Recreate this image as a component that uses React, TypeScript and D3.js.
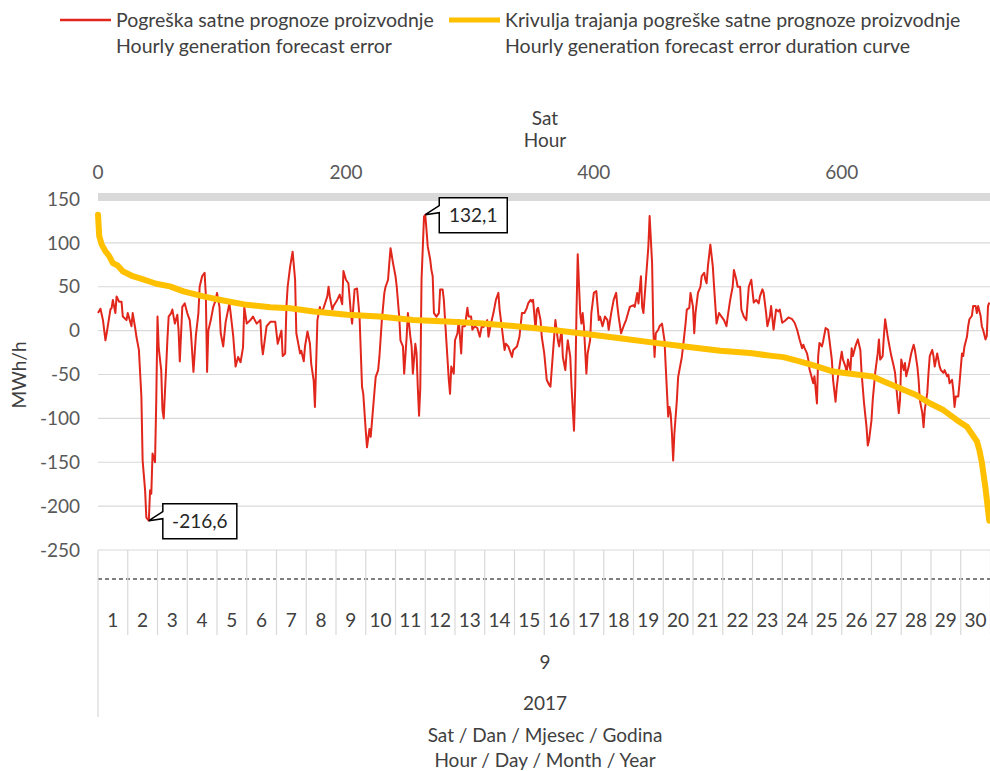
import React from 'react';
import * as d3 from 'd3';

// hourly forecast error (hour of month, MWh/h)
const errorHours = [
  0, 2, 4, 6, 7, 10, 11, 12, 14, 15, 17, 19, 20, 23, 24, 27, 28, 30, 31, 33,
  35, 36, 38, 39, 41, 42, 43, 44, 46, 47, 48, 49, 51, 52, 53, 55, 56, 57, 59, 60,
  62, 64, 65, 66, 68, 70, 72, 74, 75, 77, 79, 81, 82, 84, 86, 87, 88, 89, 91, 93,
  95, 96, 98, 99, 101, 103, 106, 107, 109, 111, 113, 115, 117, 118, 120, 123, 125, 128, 131, 132,
  133, 136, 139, 141, 143, 145, 148, 149, 151, 152, 153, 155, 157, 159, 160, 162, 163, 164, 166, 167,
  169, 171, 172, 174, 175, 177, 179, 180, 182, 185, 186, 187, 189, 190, 193, 195, 197, 198, 200, 202,
  204, 205, 207, 209, 211, 213, 214, 216, 217, 219, 220, 222, 224, 226, 227, 229, 231, 232, 234, 235,
  236, 238, 240, 241, 243, 244, 246, 247, 249, 250, 252, 253, 254, 256, 257, 258, 259, 260, 261, 263,
  264, 265, 266, 268, 269, 270, 271, 273, 275, 276, 278, 279, 280, 281, 283, 284, 285, 287, 288, 290,
  291, 293, 294, 296, 298, 299, 301, 302, 304, 306, 308, 310, 311, 314, 315, 317, 319, 321, 323, 324,
  326, 328, 329, 331, 334, 335, 338, 340, 342, 344, 346, 347, 349, 350, 351, 353, 354, 355, 357, 358,
  360, 362, 364, 365, 367, 369, 371, 372, 374, 375, 377, 378, 379, 381, 382, 384, 385, 386, 387, 389,
  390, 391, 392, 394, 395, 397, 398, 400, 402, 404, 405, 407, 409, 411, 412, 414, 416, 418, 419, 420,
  422, 424, 426, 429, 432, 433, 435, 436, 438, 439, 440, 442, 444, 445, 447, 448, 449, 450, 452, 453,
  455, 457, 458, 460, 461, 462, 463, 464, 465, 467, 468, 471, 472, 474, 475, 477, 478, 480, 481, 482,
  484, 486, 487, 489, 490, 491, 492, 494, 496, 497, 499, 501, 503, 505, 507, 508, 510, 512, 513, 515,
  516, 518, 519, 521, 523, 525, 527, 529, 531, 533, 534, 536, 537, 539, 540, 542, 543, 545, 547, 549,
  550, 552, 554, 557, 560, 562, 564, 566, 568, 569, 570, 572, 573, 574, 577, 578, 580, 581, 582, 584,
  585, 587, 589, 590, 592, 593, 595, 596, 597, 599, 600, 601, 603, 604, 605, 607, 608, 609, 611, 613,
  615, 616, 618, 620, 621, 622, 624, 625, 627, 629, 630, 631, 633, 634, 635, 637, 638, 640, 642, 643,
  644, 646, 647, 648, 650, 651, 652, 654, 656, 658, 659, 661, 662, 663, 665, 666, 667, 669, 670, 671,
  673, 674, 675, 677, 679, 680, 682, 683, 685, 686, 687, 689, 690, 691, 692, 694, 695, 697, 698, 699,
  701, 702, 703, 705, 706, 708, 709, 710, 712, 713, 714, 716, 717, 718, 719,
];
const errorValues = [
  20, 25, 12, -11, -3, 24, 26, 35, 20, 39, 33, 33, 16, 12, 20, 5, 20, 3, -7, -22,
  -75, -148, -182, -213, -216.6, -182, -186, -140, -150, -80, 16, -20, -45, -90, -100, -41, -10, 16, 20, 24,
  8, 18, 0, -35, 27, 31, 20, 12, -3, -47, -5, 20, 50, 62, 66, 40, -47, 0, 12, 27,
  35, 43, 27, -3, -18, 10, 31, 20, -5, -41, -30, -36, -19, 27, 8, 12, 16, 8, 12, -15,
  -27, 5, 10, 10, 10, -15, 0, -29, -26, 27, 50, 73, 90, 58, -3, -18, -26, -23, -35, -18,
  -1, -15, -38, -57, -87, 12, 27, 20, 26, 39, 50, 39, 24, 28, 35, 41, 30, 68, 58, 54,
  20, 8, 47, 48, 16, -64, -72, -114, -133, -112, -121, -87, -53, -45, -30, 12, 43, 50, 58, 77,
  94, 77, 62, 50, 16, -11, -18, -49, -7, 20, -7, -18, -49, -15, -26, -65, -97, -65, 58, 130,
  132.1, 115, 96, 81, 69, 62, 20, 16, 20, 47, 47, 35, 12, -11, -56, -72, -41, -49, -11, -3,
  12, -26, 5, 5, 26, 16, 16, 1, 5, 3, -7, 8, 4, 12, -7, 8, 20, 35, 43, 24,
  1, -22, -15, -18, -30, -22, -18, -7, 20, 20, 26, 31, 35, 33, 35, 1, 24, 26, 12, -7,
  -26, -56, -62, -64, -26, 12, -11, -18, 1, -30, -45, -26, -11, -30, -64, -114, -64, 20, 87, 20,
  8, 20, 5, -49, -26, -11, 20, 43, 45, 12, 16, 5, 16, 12, 1, 20, 35, 43, 28, 16,
  -3, 5, 12, 27, 29, 27, 43, 31, 62, 27, 20, 58, 96, 130.5, 77, 1, -30, -3, 1, 5,
  8, -11, -41, -98, -87, -95, -117, -148, -117, -79, -53, -30, -18, 8, 24, 26, 43, 27, -3, 20,
  43, 50, 62, 66, 58, 54, 73, 98, 73, 50, 8, 20, 16, 12, 5, 16, 35, 50, 69, 58,
  50, 50, 24, 16, 12, 50, 58, 32, 35, 31, 39, 47, 43, 20, 5, 16, 28, 1, 24, 22,
  24, 9, 11, 15, 13, 9, 1, -10, -20, -16, -20, -26, -33, -44, -60, -52, -83, -29, -14, -18,
  -12, 3, 1, -10, -33, -56, -81, -64, -52, -33, -24, -33, -41, -48, -33, -45, -20, -29, -18, -10,
  -22, -48, -83, -110, -131, -125, -102, -79, -48, -26, -10, -33, -29, -6, 13, -6, -14, -29, -41, -48,
  -64, -94, -79, -33, -45, -37, -52, -41, -26, -16, -22, -41, -56, -79, -94, -110, -90, -71, -48, -29,
  -22, -29, -41, -26, -41, -45, -48, -45, -52, -50, -60, -56, -68, -87, -75, -75, -60, -26, -29, -18,
  -7, 5, 13, 17, 28, 28, 20, 28, 17, 5, 1, -10, -6, 28, 32,
];

// duration curve (errors sorted from largest to smallest)
const durationRank = [
  0, 1, 3, 6, 9, 12, 16, 20, 28, 37, 47, 58, 69, 85, 101, 120, 139, 155, 174, 201,
  227, 254, 281, 308, 335, 367, 394, 421, 448, 475, 502, 526, 542, 553, 566, 580, 593, 607, 625, 634,
  647, 660, 671, 682, 693, 701, 709, 711, 713, 716, 719,
];
const durationValues = [
  132.1, 107.6, 98, 90.5, 85, 77, 74, 67.6, 62, 58, 53.4, 50.4, 44.7, 39, 34.4, 29.4, 26.7, 25.5, 21.8, 18,
  16, 12.2, 10.3, 8.4, 5.3, 0.8, -3.8, -8.8, -13.7, -18.3, -22.9, -25.6, -28.5, -30.2, -35, -40.8, -46.6, -49.2, -52.3, -58,
  -65.6, -73.3, -82.8, -90.5, -102, -109.5, -126, -136, -150, -180, -216.6,
];

const yTicks = [150, 100, 50, 0, -50, -100, -150, -200, -250];
const topTicks = [0, 200, 400, 600];
const dayLabels = d3.range(1, 31).map(String);
const monthLabel = '9';
const yearLabel = '2017';

const legendItems = [
  { color: '#E1261C', width: 2.5, x: 60, lines: ['Pogreška satne prognoze proizvodnje', 'Hourly generation forecast error'] },
  { color: '#FFC000', width: 5, x: 449, lines: ['Krivulja trajanja pogreške satne prognoze proizvodnje', 'Hourly generation forecast error duration curve'] },
];

const FONT = "Lato, 'Open Sans', sans-serif";

const Callout = ({ px, py, w, label }) => {
  const left = px + 14;
  const top = py - 17;
  const h = 35;
  const d = `M${left},${top}H${left + w}V${top + h}H${left}V${top + 15}L${px},${py}L${left},${top + 8}Z`;
  return (
    <g>
      <path d={d} fill="#fff" stroke="#000" strokeWidth={1.5} />
      <text x={left + w / 2} y={top + h / 2} dy="0.35em" textAnchor="middle" fontSize={19} fill="#262626">{label}</text>
    </g>
  );
};

export default function App() {
  const W = 990, H = 771;
  const x = d3.scaleLinear().domain([0, 720]).range([98, 990.5]);
  const y = d3.scaleLinear().domain([-250, 150]).range([550, 199]);
  const dayW = (x(720) - x(0)) / 30;

  const errLine = d3.line<number>().x((_, i) => x(errorHours[i])).y((v) => y(v));
  const durLine = d3.line<number>().x((_, i) => x(durationRank[i])).y((v) => y(v));

  const maxI = errorValues.indexOf(d3.max(errorValues));
  const minI = errorValues.indexOf(d3.min(errorValues));
  const fmt = (v) => String(v).replace('.', ',');

  return (
    <svg width={W} height={H} style={{ position: 'absolute', left: 0, top: 0, display: 'block' }} fontFamily={FONT}>
      <rect width={W} height={H} fill="#fff" />

      {/* legend */}
      {legendItems.map((it, k) => (
        <g key={k}>
          <line x1={it.x} x2={it.x + 51} y1={20} y2={20} stroke={it.color} strokeWidth={it.width} />
          {it.lines.map((t, j) => (
            <text key={j} x={it.x + 56} y={20 + j * 26} dy="0.35em" fontSize={19.5} fill="#404040">{t}</text>
          ))}
        </g>
      ))}

      {/* top axis */}
      <text x={545} y={118} dy="0.35em" textAnchor="middle" fontSize={19} fill="#404040">Sat</text>
      <text x={545} y={140} dy="0.35em" textAnchor="middle" fontSize={19} fill="#404040">Hour</text>
      {topTicks.map((t) => (
        <text key={t} x={x(t)} y={172} dy="0.35em" textAnchor="middle" fontSize={19} fill="#595959">{t}</text>
      ))}

      {/* gridlines */}
      {yTicks.filter((t) => t !== 150).map((t) => (
        <line key={t} x1={x(0)} x2={x(720)} y1={y(t)} y2={y(t)} stroke="#D9D9D9" strokeWidth={1.2} />
      ))}
      <line x1={x(0)} x2={x(720)} y1={197} y2={197} stroke="#D9D9D9" strokeWidth={8} />

      {/* y axis */}
      {yTicks.map((t) => (
        <text key={t} x={80} y={t === 150 ? 199 : y(t)} dy="0.35em" textAnchor="end" fontSize={19} fill="#595959">{t}</text>
      ))}
      <text transform="translate(19,375) rotate(-90)" dy="0.35em" textAnchor="middle" fontSize={19} fill="#404040">MWh/h</text>

      {/* series */}
      <path d={errLine(errorValues)} fill="none" stroke="#E1261C" strokeWidth={2} strokeLinejoin="round" />
      <path d={durLine(durationValues)} fill="none" stroke="#FFC000" strokeWidth={6} strokeLinejoin="round" strokeLinecap="round" />

      <Callout px={x(errorHours[maxI])} py={y(errorValues[maxI])} w={68} label={fmt(errorValues[maxI])} />
      <Callout px={x(errorHours[minI])} py={y(errorValues[minI])} w={74} label={fmt(errorValues[minI])} />

      {/* category axis */}
      <line x1={x(0)} x2={x(720)} y1={579} y2={579} stroke="#000" strokeWidth={1} strokeDasharray="4,3" />
      {d3.range(0, 31).map((d) => (
        <line key={d} x1={x(0) + d * dayW} x2={x(0) + d * dayW} y1={550} y2={d === 0 ? 717 : 635} stroke="#D9D9D9" strokeWidth={1.2} />
      ))}
      {dayLabels.map((l, i) => (
        <text key={l} x={x(0) + (i + 0.5) * dayW} y={620} dy="0.35em" textAnchor="middle" fontSize={19} fill="#404040">{l}</text>
      ))}
      <text x={545} y={662} dy="0.35em" textAnchor="middle" fontSize={19} fill="#404040">{monthLabel}</text>
      <text x={545} y={703} dy="0.35em" textAnchor="middle" fontSize={19} fill="#404040">{yearLabel}</text>
      <text x={545} y={735} dy="0.35em" textAnchor="middle" fontSize={19} fill="#404040">Sat / Dan / Mjesec / Godina</text>
      <text x={545} y={760} dy="0.35em" textAnchor="middle" fontSize={19} fill="#404040">Hour / Day / Month / Year</text>
    </svg>
  );
}
